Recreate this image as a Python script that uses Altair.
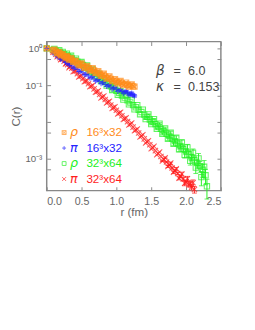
import altair as alt
import pandas as pd

# ---- data ----
# 16^3x32 lattice: on-axis and off-axis separations (fm)
r16 = [0.0, 0.09, 0.13, 0.16, 0.19, 0.21, 0.25, 0.28, 0.30, 0.33, 0.36, 0.40, 0.44,
       0.48, 0.52, 0.56, 0.60, 0.64, 0.68, 0.72, 0.76, 0.80, 0.84, 0.88, 0.92, 0.96,
       1.00, 1.04, 1.08, 1.12, 1.16, 1.20, 1.24]
r16b = [0.11, 0.15, 0.18, 0.20, 0.23, 0.27, 0.29, 0.32, 0.35, 0.38, 0.42, 0.46, 0.50,
        0.54, 0.58, 0.62, 0.66, 0.70, 0.74, 0.78, 0.82, 0.86, 0.90, 0.94, 0.98, 1.02,
        1.06, 1.10, 1.14, 1.18, 1.22, 1.26]
rho16 = [1.0, 0.891, 0.832, 0.759, 0.724, 0.676, 0.617, 0.589, 0.550, 0.513, 0.490,
         0.447, 0.398, 0.372, 0.339, 0.309, 0.288, 0.263, 0.251, 0.224, 0.204, 0.191,
         0.174, 0.158, 0.148, 0.135, 0.126, 0.120, 0.112, 0.107, 0.102, 0.098, 0.093]
rho16b = [0.923, 0.741, 0.794, 0.653, 0.692, 0.562, 0.617, 0.495, 0.543, 0.432, 0.457,
          0.355, 0.389, 0.299, 0.327, 0.251, 0.288, 0.216, 0.240, 0.180, 0.204, 0.151,
          0.172, 0.129, 0.146, 0.112, 0.130, 0.100, 0.117, 0.0912, 0.105, 0.0912]
pi16 = [1.0, 0.759, 0.676, 0.617, 0.562, 0.525, 0.468, 0.427, 0.398, 0.363, 0.331,
        0.295, 0.269, 0.240, 0.219, 0.195, 0.178, 0.162, 0.148, 0.135, 0.126, 0.115,
        0.105, 0.0977, 0.0891, 0.0832, 0.0776, 0.0724, 0.0676, 0.0646, 0.0617,
        0.0575, 0.0537]
pi16_err = [0]*28 + [0.05, 0.06, 0.06, 0.07, 0.08]
pi16b = [0.767, 0.596, 0.624, 0.507, 0.531, 0.412, 0.442, 0.351, 0.372, 0.288, 0.305,
         0.234, 0.248, 0.191, 0.204, 0.157, 0.170, 0.129, 0.143, 0.110, 0.120, 0.0923,
         0.102, 0.0785, 0.0881, 0.0684, 0.0767, 0.0603, 0.0692, 0.0543, 0.0610, 0.0513]
pi16b_err = [0]*27 + [0.05, 0.05, 0.06, 0.07, 0.08]

# 32^3x64 lattice
r32 = [0.0, 0.09, 0.13, 0.16, 0.19, 0.21, 0.25, 0.28, 0.30, 0.33, 0.36, 0.40, 0.44,
       0.48, 0.52, 0.56, 0.60, 0.64, 0.68, 0.72, 0.76, 0.80, 0.84, 0.88, 0.92, 0.96,
       1.00, 1.04, 1.08, 1.12, 1.16, 1.20, 1.24, 1.28, 1.32, 1.36, 1.40, 1.44, 1.48,
       1.52, 1.56, 1.60, 1.64, 1.68, 1.72, 1.76, 1.80, 1.84, 1.88, 1.92, 1.96, 2.00,
       2.04, 2.08, 2.12, 2.16, 2.20, 2.24, 2.28, 2.32]
r32b = [0.11, 0.15, 0.18, 0.20, 0.23, 0.27, 0.29, 0.32, 0.35, 0.38, 0.42, 0.46, 0.50,
        0.54, 0.58, 0.62, 0.66, 0.70, 0.74, 0.78, 0.82, 0.86, 0.90, 0.94, 0.98, 1.02,
        1.06, 1.10, 1.14, 1.18, 1.22, 1.26, 1.30, 1.34, 1.38, 1.42, 1.46, 1.50, 1.54,
        1.58, 1.62, 1.66, 1.70, 1.74, 1.78, 1.82, 1.86, 1.90, 1.94, 1.98, 2.02, 2.06,
        2.10, 2.14, 2.18, 2.22, 2.26, 2.30]
rho32 = [1.0, 0.912, 0.851, 0.813, 0.776, 0.741, 0.692, 0.646, 0.617, 0.575, 0.537,
         0.479, 0.437, 0.389, 0.355, 0.316, 0.282, 0.245, 0.214, 0.186, 0.162, 0.141,
         0.123, 0.107, 0.0933, 0.0813, 0.0708, 0.0617, 0.0525, 0.0457, 0.0389,
         0.0339, 0.0288, 0.0251, 0.0214, 0.0186, 0.0158, 0.0138, 0.0117, 0.0102,
         0.00871, 0.00759, 0.00646, 0.00562, 0.00479, 0.00417, 0.00355, 0.00302,
         0.00257, 0.00219, 0.00186, 0.00158, 0.00132, 0.00110, 0.000912, 0.000759,
         0.000631, 0.000501, 0.000355, 0.000282]
rho32_err = [0]*37 + [0.03, 0.03, 0.04, 0.04, 0.05, 0.05, 0.06, 0.07, 0.08, 0.09,
                      0.10, 0.11, 0.12, 0.14, 0.16, 0.18, 0.20, 0.23, 0.27, 0.32,
                      0.38, 0.45]
rho32b = [0.966, 0.759, 0.891, 0.676, 0.804, 0.589, 0.724, 0.525, 0.631, 0.452, 0.525,
          0.359, 0.427, 0.292, 0.343, 0.229, 0.269, 0.174, 0.204, 0.129, 0.155, 0.0977,
          0.120, 0.0741, 0.0912, 0.0550, 0.0684, 0.0407, 0.0519, 0.0302, 0.0385,
          0.0219, 0.0285, 0.0162, 0.0216, 0.0120, 0.0160, 0.00871, 0.0119, 0.00646,
          0.00902, 0.00479, 0.00668, 0.00347, 0.00507, 0.00254, 0.00376, 0.00180,
          0.00279, 0.00127, 0.00204, 0.000871, 0.00145, 0.000575, 0.00102, 0.000316,
          0.000603, 0.000178]
rho32b_err = [0]*35 + [0.03, 0.03, 0.04, 0.04, 0.05, 0.06, 0.07, 0.08, 0.09, 0.10,
                       0.11, 0.12, 0.14, 0.16, 0.18, 0.20, 0.23, 0.27, 0.31, 0.36,
                       0.42, 0.48, 0.55]
pi32 = [1.0, 0.794, 0.692, 0.631, 0.562, 0.513, 0.447, 0.398, 0.363, 0.324, 0.288,
        0.240, 0.204, 0.174, 0.151, 0.129, 0.110, 0.0933, 0.0794, 0.0661, 0.0562,
        0.0479, 0.0407, 0.0347, 0.0288, 0.0245, 0.0209, 0.0174, 0.0148, 0.0123,
        0.0102, 0.00871, 0.00724, 0.00603, 0.00501, 0.00417, 0.00347, 0.00288,
        0.00240, 0.00200, 0.00166, 0.00138, 0.00115, 0.000955, 0.000813, 0.000676,
        0.000562, 0.000468, 0.000398, 0.000331, 0.000282, 0.000234, 0.000200,
        0.000170, 0.000145]
pi32_err = [0]*44 + [0.04, 0.05, 0.06, 0.07, 0.08, 0.09, 0.11, 0.13, 0.15, 0.17, 0.2]
pi32b = [0.794, 0.596, 0.646, 0.490, 0.525, 0.376, 0.417, 0.299, 0.339, 0.234, 0.248,
         0.168, 0.182, 0.124, 0.133, 0.0902, 0.0989, 0.0646, 0.0700, 0.0452, 0.0507,
         0.0327, 0.0363, 0.0232, 0.0260, 0.0166, 0.0184, 0.0117, 0.0129, 0.00822,
         0.00933, 0.00575, 0.00646, 0.00389, 0.00447, 0.00269, 0.00309, 0.00186,
         0.00219, 0.00129, 0.00151, 0.000871, 0.00106, 0.000617, 0.000759, 0.000427,
         0.000531, 0.000295, 0.000385, 0.000214, 0.000285, 0.000207, 0.000221]
pi32b_err = [0]*41 + [0.04, 0.05, 0.06, 0.07, 0.08, 0.09, 0.10, 0.12, 0.14, 0.16,
                      0.18, 0.20]

series = ["rho16", "pi16", "rho32", "pi32"]
colors = ["#ff8c1a", "#2424ff", "#22f022", "#ff1e1e"]
greek = ["ρ", "π", "ρ", "π"]
lattice = ["16³x32", "16³x32", "32³x64", "32³x64"]
shapes = [
    "M-1,-1L1,-1L1,1L-1,1Z M-1,-1L1,1 M1,-1L-1,1",
    "M-1,0L1,0 M0,-1L0,1",
    "M-1,-1L1,-1L1,1L-1,1Z",
    "M-1,-1L1,1 M1,-1L-1,1",
]

x_ticks = [0.0, 0.5, 1.0, 1.5, 2.0, 2.5]
y_ticks = [1, 0.5, 0.1, 0.05, 0.01, 0.005, 0.001, 0.0005]
beta_kappa = [("β", "6.0"), ("κ", "0.153")]

rows = []
sets = [
    ("rho16", r16, rho16, [0]*len(r16)),
    ("rho16", r16b, rho16b, [0]*len(r16b)),
    ("pi16", r16, pi16, pi16_err),
    ("pi16", r16b, pi16b, pi16b_err),
    ("rho32", r32, rho32, rho32_err),
    ("rho32", r32b, rho32b, rho32b_err),
    ("pi32", r32[:len(pi32)], pi32, pi32_err),
    ("pi32", r32b[:len(pi32b)], pi32b, pi32b_err),
]
order = {s: i for i, s in enumerate(series)}
for name, rr, cc, ee in sets:
    for r, c, e in zip(rr, cc, ee):
        rows.append({"series": name, "order": order[name], "r": r, "C": c,
                     "lo": c * (1 - e), "hi": c * (1 + e), "err": e})
df = pd.DataFrame(rows)
df_err = df[df["err"] > 0]

x_dom = [0.0, 2.5]
y_dom = [1.355e-4, 1.53]
FONT = "Liberation Sans"
GRAY = "#666666"

xs = alt.Scale(domain=x_dom, nice=False, zero=False)
ys = alt.Scale(type="log", domain=y_dom, nice=False)
col = alt.Scale(domain=series, range=colors)
shp = alt.Scale(domain=series, range=shapes)

x_axis = alt.Axis(values=x_ticks, format=".1f", title="r  (fm)", grid=False,
                  domain=False, offset=-4, tickSize=4, tickColor="#888",
                  labelPadding=5, labelFontSize=11, labelColor=GRAY,
                  labelFont=FONT, titleFont=FONT, titleFontSize=12,
                  titleFontWeight="normal", titleColor=GRAY, titlePadding=1)
y_axis = alt.Axis(values=y_ticks, grid=False, domain=False, offset=-4,
                  tickSize=4, tickColor="#888", labelPadding=5,
                  labelFontSize=10, labelColor=GRAY, labelFont=FONT,
                  labelExpr="datum.value == 1 ? '10⁰' : datum.value == 0.1 ? '10⁻¹' : datum.value == 0.001 ? '10⁻³' : ''",
                  title="C(r)", titleFont=FONT, titleFontSize=12,
                  titleFontWeight="normal", titleColor=GRAY, titlePadding=3)

points = alt.Chart(df).mark_point(size=30, strokeWidth=1.1, filled=False).encode(
    x=alt.X("r:Q", scale=xs, axis=x_axis),
    y=alt.Y("C:Q", scale=ys, axis=y_axis),
    color=alt.Color("series:N", scale=col, legend=None),
    shape=alt.Shape("series:N", scale=shp, legend=None),
    order=alt.Order("order:Q", sort="descending"),
)

bars = alt.Chart(df_err).mark_rule(strokeWidth=1).encode(
    x=alt.X("r:Q", scale=xs, axis=None), y=alt.Y("lo:Q", scale=ys, axis=None), y2="hi:Q",
    color=alt.Color("series:N", scale=col, legend=None),
)
cap_lo = alt.Chart(df_err).mark_tick(orient="horizontal", size=5, thickness=1).encode(
    x=alt.X("r:Q", scale=xs, axis=None), y=alt.Y("lo:Q", scale=ys, axis=None),
    color=alt.Color("series:N", scale=col, legend=None),
)
cap_hi = alt.Chart(df_err).mark_tick(orient="horizontal", size=5, thickness=1).encode(
    x=alt.X("r:Q", scale=xs, axis=None), y=alt.Y("hi:Q", scale=ys, axis=None),
    color=alt.Color("series:N", scale=col, legend=None),
)

# mirrored ticks (top / right)
frame = alt.Chart(pd.DataFrame({"r": [1.0], "C": [0.1]})).mark_point(opacity=0).encode(
    x=alt.X("r:Q", scale=xs, axis=alt.Axis(orient="top", values=x_ticks, labels=False,
                                           title="", grid=False, domain=False,
                                           offset=-4, tickSize=4, tickColor="#888")),
    y=alt.Y("C:Q", scale=ys, axis=alt.Axis(orient="right", values=y_ticks, labels=False,
                                           title="", grid=False, domain=False,
                                           offset=-4, tickSize=4, tickColor="#888")),
)

layers = [bars, cap_lo, cap_hi, points, frame]

# legend (inside the plot)
leg_y = [94, 110, 126, 142]
for i, s in enumerate(series):
    one = pd.DataFrame({"series": [s], "greek": [greek[i]], "lat": [lattice[i]]})
    layers.append(alt.Chart(one).mark_point(size=16, strokeWidth=1, filled=False).encode(
        x=alt.value(18), y=alt.value(leg_y[i]),
        color=alt.Color("series:N", scale=col, legend=None),
        shape=alt.Shape("series:N", scale=shp, legend=None)))
    layers.append(alt.Chart(one).mark_text(align="left", baseline="middle", fontSize=13,
                                           font="DejaVu Sans", fontStyle="italic").encode(
        x=alt.value(24), y=alt.value(leg_y[i]), text="greek:N",
        color=alt.Color("series:N", scale=col, legend=None)))
    layers.append(alt.Chart(one).mark_text(align="left", baseline="middle", fontSize=12,
                                           font=FONT).encode(
        x=alt.value(41), y=alt.value(leg_y[i]), text="lat:N",
        color=alt.Color("series:N", scale=col, legend=None)))

bk_y = [30, 47]
for i, (sym, val) in enumerate(beta_kappa):
    one = pd.DataFrame({"sym": [sym], "val": [val]})
    layers.append(alt.Chart(one).mark_text(align="left", baseline="middle", fontSize=14,
                                           font="DejaVu Sans", fontStyle="italic",
                                           color="#444").encode(
        x=alt.value(113), y=alt.value(bk_y[i]), text="sym:N"))
    layers.append(alt.Chart(one).mark_text(align="left", baseline="middle", fontSize=13,
                                           font=FONT, color="#444").encode(
        x=alt.value(131), y=alt.value(bk_y[i]), text=alt.value("=")))
    layers.append(alt.Chart(one).mark_text(align="left", baseline="middle", fontSize=13,
                                           font=FONT, color="#444").encode(
        x=alt.value(146), y=alt.value(bk_y[i]), text="val:N"))

chart = alt.layer(*layers).resolve_axis(x="independent", y="independent").properties(
    width=180, height=154,
    padding={"left": 40, "top": 30, "right": 27, "bottom": 100},
    autosize=alt.AutoSizeParams(type="none"),
).configure_view(stroke="#888888", strokeWidth=1.5)

chart.save("out.html", embed_options={"renderer": "svg", "actions": False})
